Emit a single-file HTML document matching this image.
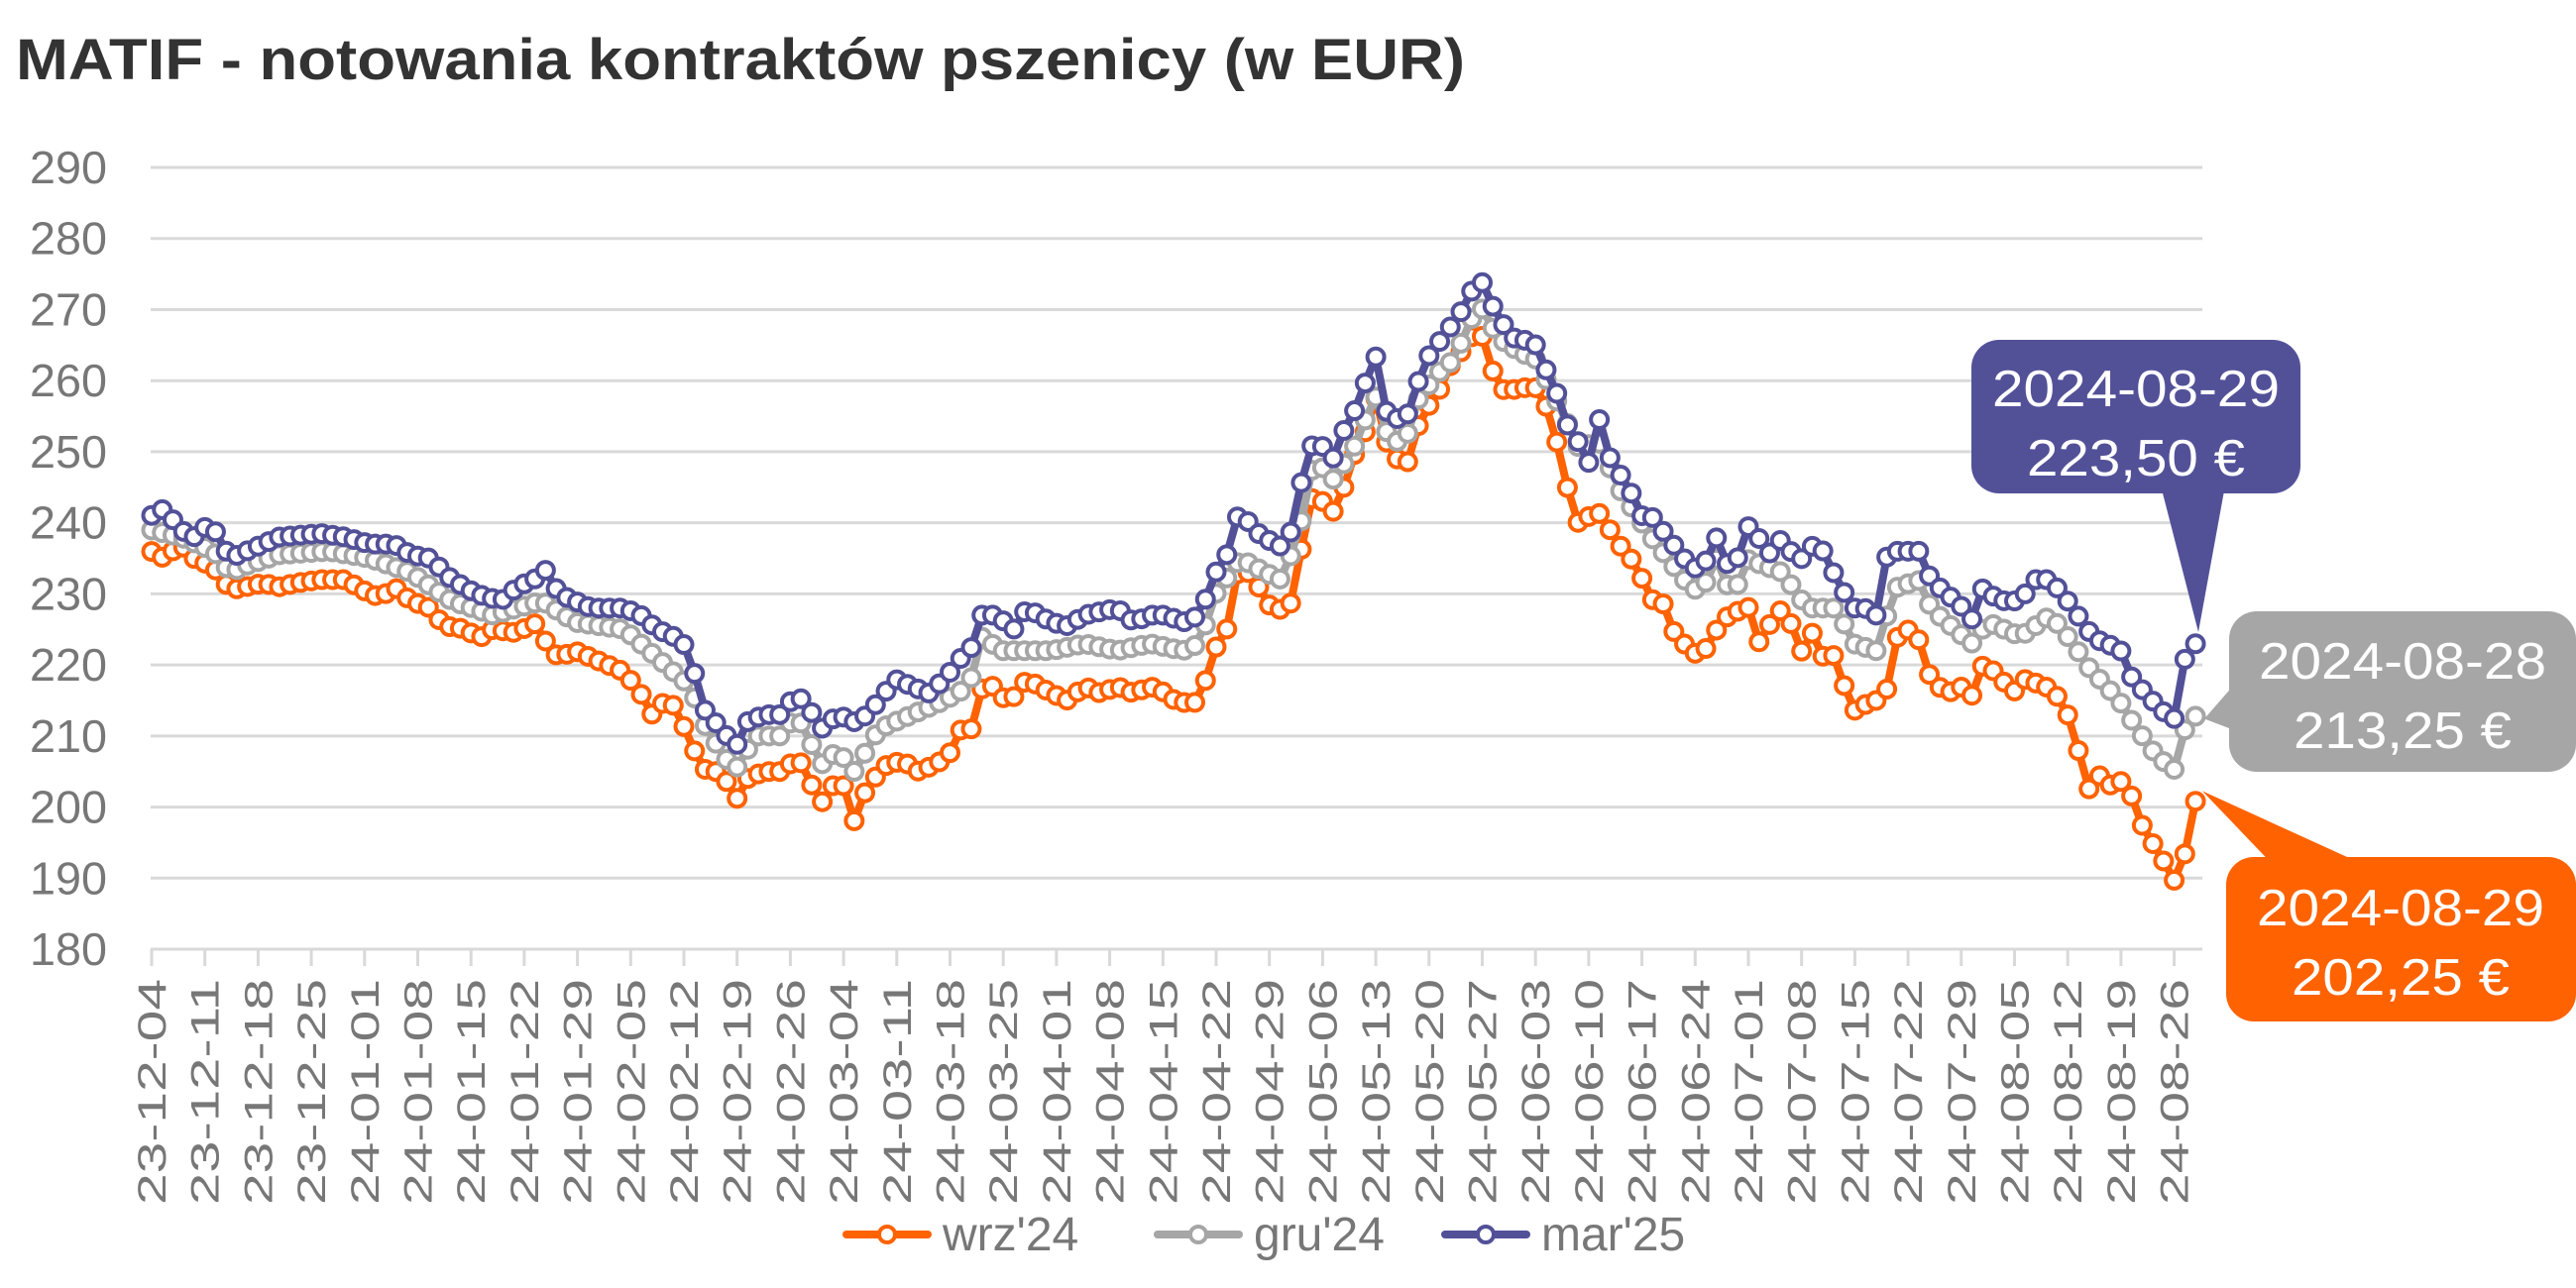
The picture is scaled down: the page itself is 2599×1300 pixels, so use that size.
<!DOCTYPE html>
<html><head><meta charset="utf-8"><style>
html,body{margin:0;padding:0;background:#fff;}
svg{display:block;font-family:"Liberation Sans",sans-serif;}
</style></head><body>
<svg id="s" width="2599" height="1300" viewBox="0 0 2599 1300" xmlns="http://www.w3.org/2000/svg">
<text x="16" y="80" font-size="58" font-weight="bold" fill="#333" textLength="1462" lengthAdjust="spacingAndGlyphs">MATIF - notowania kontraktów pszenicy (w EUR)</text>
<g id="grid"></g>
<g id="series"></g>
<g id="ann"></g>
</svg>
<script>
const NS="http://www.w3.org/2000/svg";
const s=document.getElementById('s');
function el(tag,attrs,parent,text){const e=document.createElementNS(NS,tag);for(const k in attrs)e.setAttribute(k,attrs[k]);if(text!==undefined)e.textContent=text;(parent||s).appendChild(e);return e;}
const K=1.6576;
const Y=v=>169+(290-v)*7.173;
const g=document.getElementById('grid');
for(let v=190;v<=290;v+=10){el('line',{x1:152,x2:2222,y1:Y(v),y2:Y(v),stroke:'#d9d9d9','stroke-width':3},g);}
for(let v=180;v<=290;v+=10){el('text',{x:108,y:Y(v)+16,'font-size':46,fill:'#777','text-anchor':'end',textLength:78,lengthAdjust:'spacingAndGlyphs'},g,String(v));}
el('line',{x1:152,x2:2222,y1:958,y2:958,stroke:'#d9d9d9','stroke-width':3},g);
const labels=[];
let d=new Date(Date.UTC(2023,11,4));
for(let i=0;i<39;i++){const dd=new Date(d.getTime()+i*7*86400000);
 const yy=String(dd.getUTCFullYear()).slice(2),mm=String(dd.getUTCMonth()+1).padStart(2,'0'),da=String(dd.getUTCDate()).padStart(2,'0');
 labels.push(yy+'-'+mm+'-'+da);}
const W=53.7;
labels.forEach((t,i)=>{const x=153+i*W;
 el('line',{x1:x,x2:x,y1:958,y2:975,stroke:'#d9d9d9','stroke-width':3},g);
 el('text',{x:0,y:0,'font-size':40,fill:'#777','text-anchor':'end',textLength:228,lengthAdjust:'spacingAndGlyphs',transform:`translate(${x+14},988) rotate(-90)`},g,t);});
const blue=[[92,241],[100,242],[110,239],[118,238],[128,240],[133,238],[140,235],[150,236],[160,237],[170,238],[195,238.5],[210,238],[225,237],[240,237],[250,235.5],[262,235],[275,232],[290,230],[305,229],[315,231],[325,232],[333,233.5],[340,230],[350,229],[360,228],[380,228],[390,227],[400,225],[410,224],[415,223.5],[420,221],[425,217],[430,213],[440,211],[447,208],[455,212],[465,213],[475,213],[485,216],[495,213],[500,211],[510,213],[520,212],[528,213],[535,215],[545,218],[555,217],[565,216],[575,218],[585,221],[590,221.5],[597,227],[605,227],[612,226],[617,225],[625,228],[640,226],[650,225.5],[660,227],[670,227.5],[680,228],[690,226],[700,227],[710,227],[720,226],[730,227],[740,233],[748,236],[755,242.5],[762,239],[770,238],[778,236.5],[785,238],[790,244],[800,252],[808,250],[812,249],[818,253],[825,256],[830,259],[837,264],[842,256],[848,255],[855,254],[862,259],[868,263],[875,265],[880,267],[885,268],[895,272],[900,276],[905,271],[912,270],[918,266],[925,266],[935,265],[942,261],[950,257],[955,253],[962,251],[968,248],[972,256],[978,250],[985,247],[990,246],[998,241],[1005,241],[1015,238],[1025,235],[1035,233],[1045,238],[1055,232],[1062,240],[1070,238],[1078,235.5],[1085,238],[1095,234],[1100,237],[1110,236],[1118,232],[1128,228],[1135,228],[1142,227],[1147,235],[1155,236],[1170,236],[1175,232],[1185,230],[1195,228],[1200,226],[1203,231.5],[1210,230],[1220,229],[1230,229],[1238,232],[1248,232],[1255,230],[1262,228],[1270,225],[1280,223],[1290,222.5],[1298,218],[1310,215],[1323,212],[1330,221],[1338,223.5]];
const gray=[[92,239],[110,238],[130,236],[140,233],[150,234],[170,235.5],[200,236],[225,235],[250,233],[275,229],[300,227],[330,229],[350,226],[380,225],[400,221],[420,217],[430,211],[447,205],[460,210],[475,210],[485,213],[500,206],[510,208],[520,205],[535,211],[555,213],[575,215],[590,217],[597,224],[610,222],[640,222],[660,223],[680,222],[700,223],[720,222],[730,223],[740,230],[755,235],[770,233],[780,232],[790,238],[800,249],[812,246],[825,251],[837,258],[845,252],[855,251],[862,257],[875,261],[885,263],[900,271],[912,266],[925,264],[935,263],[950,256],[962,250],[972,252],[985,245],[1005,238],[1025,232],[1035,230],[1045,235],[1055,229],[1062,235],[1085,233],[1100,228],[1118,228],[1128,223],[1142,222],[1147,226],[1155,231],[1170,232],[1175,228],[1200,223],[1210,226],[1230,224],[1248,227],[1262,223],[1270,220],[1290,215],[1298,212],[1310,208],[1323,205],[1330,211],[1338,213.25]];
const orange=[[92,236],[100,235],[110,237],[118,235],[128,234],[133,233],[140,230.5],[150,231],[160,231.5],[170,231],[180,231.5],[195,232],[210,232],[225,230],[232,229.5],[240,231],[250,229],[262,228],[270,225.5],[285,225],[290,223.5],[300,225],[315,224.5],[325,226],[333,223],[340,221],[350,222],[360,221],[370,220],[380,219],[390,216],[397,213],[405,215],[412,214],[420,209],[430,205],[440,205],[447,200.5],[455,204],[465,205],[475,205],[480,206],[487,206.5],[492,204],[500,200.5],[505,203],[515,203],[520,198],[528,203],[540,206],[550,206.5],[558,205],[570,206],[580,208],[585,211],[593,211],[598,217],[605,217],[612,215],[617,215.5],[625,218],[640,216],[650,215],[660,217],[670,216],[680,217],[690,216],[700,217],[710,216],[715,215],[725,214.5],[730,215],[740,222.5],[745,223],[755,235],[762,232],[770,230],[775,227],[780,228],[785,228],[790,234],[800,245],[805,243],[812,241.5],[818,245],[825,250],[830,252],[837,258],[842,252],[848,250],[855,247],[862,253],[868,256],[875,258],[880,261],[885,263],[893,265],[900,268],[905,264],[912,259],[918,258.5],[925,259],[935,259],[942,256],[948,251],[955,244],[962,239],[970,242],[975,241],[985,237],[990,236],[998,233],[1005,229],[1010,230],[1015,227],[1020,224],[1030,222],[1035,221],[1045,225],[1050,227],[1055,226],[1062,230],[1070,223],[1078,226],[1085,228],[1092,225],[1098,221],[1102,225],[1110,221],[1115,222],[1128,213.5],[1140,215],[1147,215],[1155,224],[1162,225],[1170,223],[1175,218],[1185,216],[1195,217],[1200,215.5],[1205,220],[1215,219],[1225,216],[1232,218],[1245,217],[1255,215],[1262,211],[1267,206],[1270,201.5],[1275,205],[1285,203],[1295,204],[1300,199],[1305,197],[1310,195],[1318,192],[1323,189.5],[1330,193.5],[1333,198],[1338,202.25]];
function interp(kp,xd){if(xd<=kp[0][0])return kp[0][1];for(let i=1;i<kp.length;i++){if(xd<=kp[i][0]){const a=kp[i-1],b=kp[i];return a[1]+(b[1]-a[1])*(xd-a[0])/(b[0]-a[0]);}}return kp[kp.length-1][1];}
const xs=[];for(let x=153;x<=2219;x+=10.74)xs.push(x);
const sg=document.getElementById('series');
function draw(kp,col){const pts=xs.map(x=>[x,Y(interp(kp,x/K))]);
 el('polyline',{points:pts.map(p=>p.join(',')).join(' '),fill:'none',stroke:col,'stroke-width':8,'stroke-linejoin':'round'},sg);
 pts.forEach(p=>el('circle',{cx:p[0],cy:p[1],r:8.5,fill:'#fff',stroke:col,'stroke-width':4},sg));}
draw(orange,'#ff6200');draw(gray,'#a6a6a6');draw(blue,'#525198');
const a=document.getElementById('ann');
el('path',{d:`M2180,490 L2245,490 L2218,${Y(223.5)-8} Z`,fill:'#525198'},a);
el('rect',{x:1989,y:343,width:332,height:155,rx:28,fill:'#525198'},a);
el('text',{x:2155,y:410,'font-size':52,fill:'#fff','text-anchor':'middle',textLength:290,lengthAdjust:'spacingAndGlyphs'},a,'2024-08-29');
el('text',{x:2155,y:480,'font-size':52,fill:'#fff','text-anchor':'middle',textLength:220,lengthAdjust:'spacingAndGlyphs'},a,'223,50 €');
el('path',{d:`M2255,690 L2224,${Y(213.25)+6} L2262,740 Z`,fill:'#a6a6a6'},a);
el('rect',{x:2249,y:617,width:350,height:162,rx:28,fill:'#a6a6a6'},a);
el('text',{x:2424,y:685,'font-size':52,fill:'#fff','text-anchor':'middle',textLength:290,lengthAdjust:'spacingAndGlyphs'},a,'2024-08-28');
el('text',{x:2424,y:755,'font-size':52,fill:'#fff','text-anchor':'middle',textLength:220,lengthAdjust:'spacingAndGlyphs'},a,'213,25 €');
el('path',{d:`M2300,880 L2222,${Y(202.25)} L2390,875 Z`,fill:'#ff6200'},a);
el('rect',{x:2246,y:865,width:353,height:166,rx:28,fill:'#ff6200'},a);
el('text',{x:2422,y:934,'font-size':52,fill:'#fff','text-anchor':'middle',textLength:290,lengthAdjust:'spacingAndGlyphs'},a,'2024-08-29');
el('text',{x:2422,y:1004,'font-size':52,fill:'#fff','text-anchor':'middle',textLength:220,lengthAdjust:'spacingAndGlyphs'},a,'202,25 €');
[[854,'#ff6200',"wrz'24"],[1168,'#a6a6a6',"gru'24"],[1458,'#525198',"mar'25"]].forEach(([x,c,t])=>{
 el('line',{x1:x,x2:x+82,y1:1246,y2:1246,stroke:c,'stroke-width':8,'stroke-linecap':'round'},a);
 el('circle',{cx:x+41,cy:1246,r:8,fill:'#fff',stroke:c,'stroke-width':4},a);
 el('text',{x:x+97,y:1262,'font-size':48,fill:'#777'},a,t);});
</script>
</body></html>
